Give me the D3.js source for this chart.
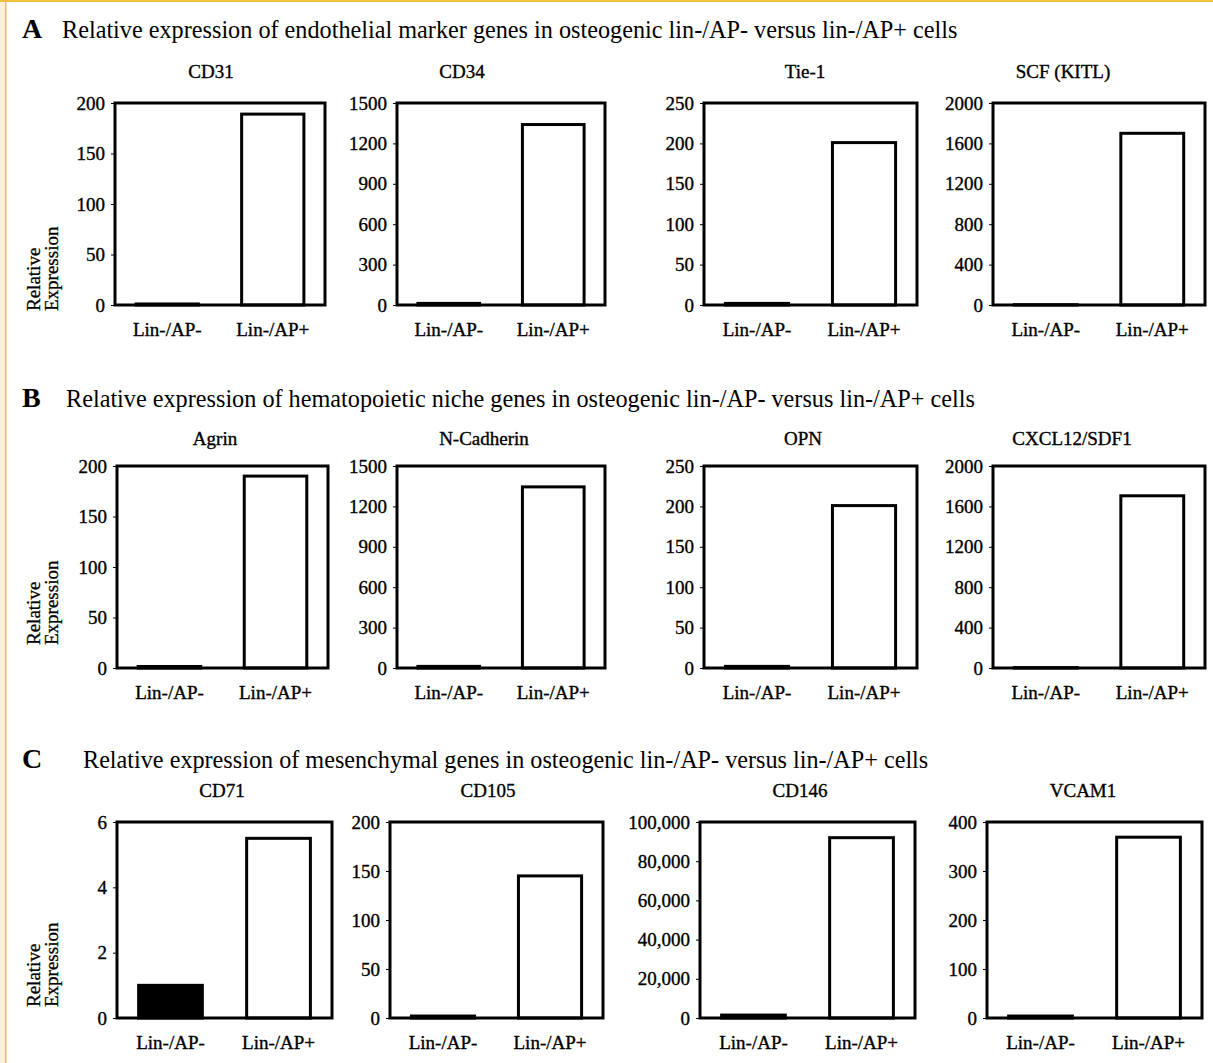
<!DOCTYPE html>
<meta charset="utf-8">
<head>
  <title>Relative expression, lin-/AP- vs lin-/AP+</title>
</head>

<style>
body { margin: 0; background: white; }
text {
  font-family: "Liberation Serif", "Times New Roman", serif;
  fill: black;
}
.frame { fill: none; stroke: black; stroke-width: 3; }
.bar { stroke: black; stroke-width: 3; }
.yaxis .tick line { stroke: black; stroke-width: 1; }
.yaxis text, .xaxis text { font-size: 19px; stroke: black; stroke-width: 0.35; }
.ptitle { font-size: 19px; stroke: black; stroke-width: 0.35; }
.ylab { font-size: 19px; stroke: black; stroke-width: 0.3; }
</style>

<body>
  <svg width="1213" height="1063"></svg>

  <script src="https://cdnjs.cloudflare.com/ajax/libs/d3/7.8.5/d3.min.js"></script>
  <script>
// ---- data ----
var categories = ["Lin-/AP-", "Lin-/AP+"];
var rowLetters = ["A", "B", "C"];
var rowTitles = [
  "Relative expression of endothelial marker genes in osteogenic lin-/AP- versus lin-/AP+ cells",
  "Relative expression of hematopoietic niche genes in osteogenic lin-/AP- versus lin-/AP+ cells",
  "Relative expression of mesenchymal genes in osteogenic lin-/AP- versus lin-/AP+ cells"
];
var genes = [
  ["CD31", "CD34", "Tie-1", "SCF (KITL)"],
  ["Agrin", "N-Cadherin", "OPN", "CXCL12/SDF1"],
  ["CD71", "CD105", "CD146", "VCAM1"]
];
var apNeg = [
  [1, 12, 2, 3],
  [1.5, 12, 2, 4],
  [1, 2, 1500, 4]
];
var apPos = [
  [189, 1340, 201, 1700],
  [190, 1345, 201, 1705],
  [5.5, 145, 92000, 369]
];
var yMax = [
  [200, 1500, 250, 2000],
  [200, 1500, 250, 2000],
  [6, 200, 100000, 400]
];
var yStep = [
  [50, 300, 50, 400],
  [50, 300, 50, 400],
  [2, 50, 20000, 100]
];
var useComma = [
  [false, false, false, false],
  [false, false, false, false],
  [false, false, true, false]
];
var yLabel = ["Relative", "Expression"];

// ---- layout ----
var rowTop = [103, 466, 822];
var rowBottom = [305, 668, 1018];
var colLeft = [[115, 397, 704, 993], [117, 397, 704, 993], [117, 390, 700, 987]];
var colWidth = [[210, 208, 213, 212], [211, 208, 213, 212], [215, 213, 215, 215]];
var titleX = [[211, 462, 805, 1063], [215, 484, 803, 1072], [222, 488, 800, 1083]];
var titleY = [78, 445, 797];
var headY = [38, 407, 768];
var headStart = [62, 66, 83];
var headEnd = [958, 975, 929];
var yLabBottom = [311, 645, 1007];

var svg = d3.select("svg");

// yellow page edge
svg.append("rect").attr("x", 0).attr("y", 0).attr("width", 5).attr("height", 1063).attr("fill", "#fdf1d8");
svg.append("rect").attr("x", 5).attr("y", 0).attr("width", 1.5).attr("height", 1063).attr("fill", "#f1c343");
svg.append("rect").attr("x", 0).attr("y", 0).attr("width", 1213).attr("height", 2).attr("fill", "#f3c23c");

rowLetters.forEach(function(letter, r) {
  svg.append("text")
    .attr("x", 22).attr("y", headY[r])
    .style("font-size", "28px").style("font-weight", "bold")
    .text(letter);

  var t = svg.append("text")
    .attr("x", headStart[r]).attr("y", headY[r])
    .style("font-size", "22px")
    .text(rowTitles[r]);
  var w = t.node().getComputedTextLength();
  t.style("font-size", (22 * (headEnd[r] - headStart[r]) / w) + "px");

  // y label on first panel of the row
  var yl = svg.append("text")
    .attr("class", "ylab")
    .attr("transform", "translate(40," + yLabBottom[r] + ") rotate(-90)");
  yl.append("tspan").attr("x", 0).attr("y", 0).text(yLabel[0]);
  yl.append("tspan").attr("x", 0).attr("y", 18).text(yLabel[1]);

  genes[r].forEach(function(gene, c) {
    var left = colLeft[r][c], width = colWidth[r][c];
    var g = svg.append("g").attr("transform", "translate(" + left + ",0)");

    var x = d3.scaleBand()
      .domain(categories)
      .range([0, width])
      .paddingInner(0.41)
      .paddingOuter(0.2);

    var y = d3.scaleLinear()
      .domain([0, yMax[r][c]])
      .range([rowBottom[r], rowTop[r]]);

    var vals = [apNeg[r][c], apPos[r][c]];

    g.selectAll(".bar")
      .data(vals)
      .enter()
      .append("rect")
      .attr("class", "bar")
      .attr("x", function(d, i) { return x(categories[i]); })
      .attr("width", x.bandwidth())
      .attr("y", function(d) { return y(d); })
      .attr("height", function(d) { return y(0) - y(d); })
      .attr("fill", function(d, i) { return i === 0 ? "black" : "white"; });

    g.append("rect")
      .attr("class", "frame")
      .attr("x", 0)
      .attr("y", y(yMax[r][c]))
      .attr("width", width)
      .attr("height", y(0) - y(yMax[r][c]));

    var fmt = useComma[r][c] ? d3.format(",") : d3.format("d");
    var yAxis = g.append("g")
      .attr("class", "yaxis")
      .call(d3.axisLeft(y)
        .tickValues(d3.range(0, yMax[r][c] + yStep[r][c] / 2, yStep[r][c]))
        .tickFormat(fmt)
        .tickSizeInner(4)
        .tickSizeOuter(0)
        .tickPadding(6));
    yAxis.select(".domain").remove();
    yAxis.selectAll("text").attr("fill", "black").style("font-family", null);

    var xAxis = g.append("g")
      .attr("class", "xaxis")
      .attr("transform", "translate(0," + rowBottom[r] + ")")
      .call(d3.axisBottom(x).tickSize(0).tickPadding(18));
    xAxis.select(".domain").remove();
    xAxis.selectAll("text").attr("fill", "black").style("font-family", null);

    svg.append("text")
      .attr("class", "ptitle")
      .attr("x", titleX[r][c]).attr("y", titleY[r])
      .attr("text-anchor", "middle")
      .text(gene);
  });
});
  </script>
</body>
</html>
